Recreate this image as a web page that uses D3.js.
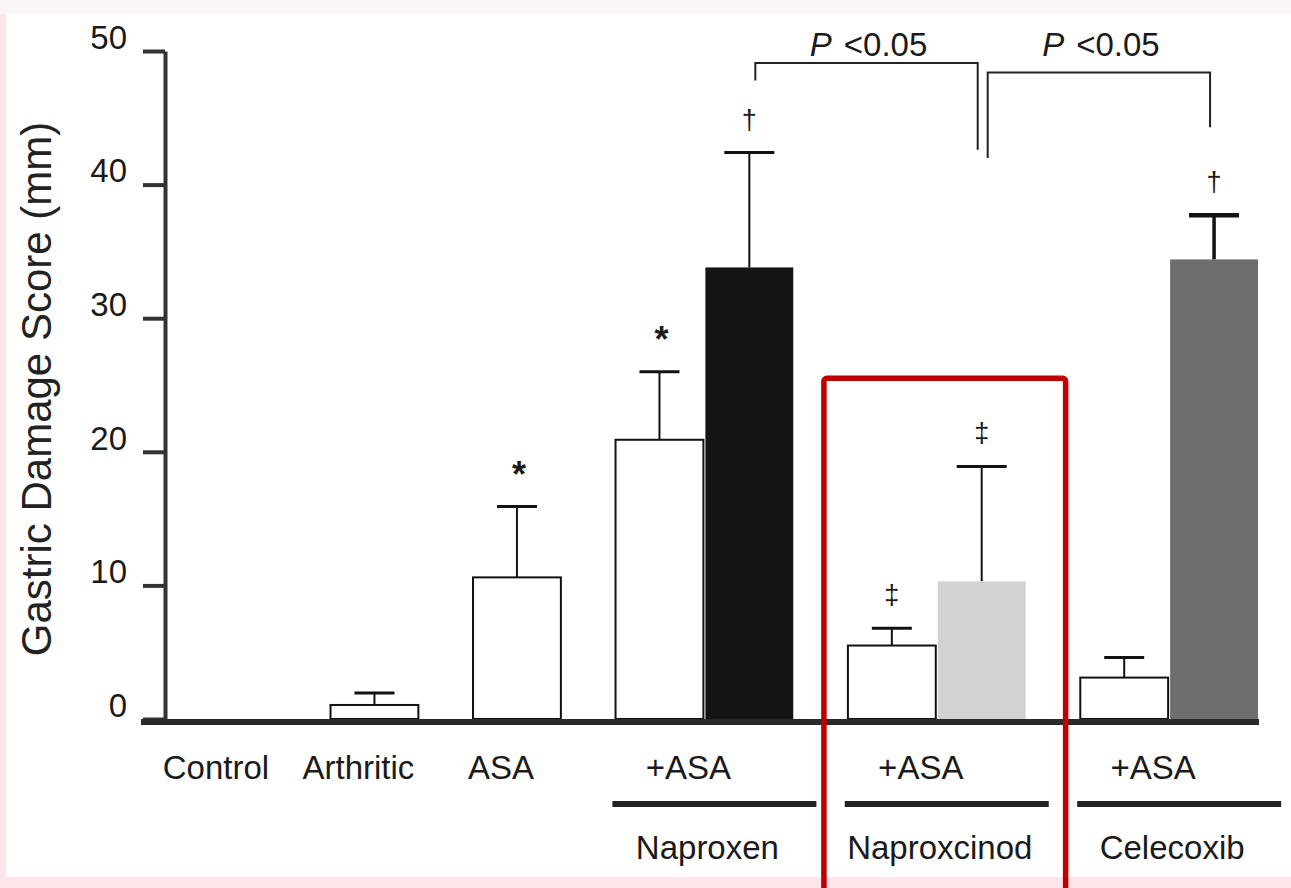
<!DOCTYPE html>
<html>
<head>
<meta charset="utf-8">
<script src="https://cdn.jsdelivr.net/npm/d3@7"></script>
<style>
  html, body { margin: 0; padding: 0; background: #fde5e9; }
  svg { display: block; font-family: "Liberation Sans", Arial, sans-serif; }
</style>
</head>
<body>
<svg id="chart"></svg>
<script>
// values
const groups = ["Control", "Arthritic", "ASA", "Naproxen", "Naproxcinod", "Celecoxib"];
const groupLabels = ["Control", "Arthritic", "ASA", "+ASA", "+ASA", "+ASA"];
const drugLabels = ["", "", "", "Naproxen", "Naproxcinod", "Celecoxib"];
const barGroup = ["Control", "Arthritic", "ASA", "Naproxen", "Naproxen", "Naproxcinod", "Naproxcinod", "Celecoxib", "Celecoxib"];
const barKind = ["plain", "plain", "plain", "plain", "naproxen", "plain", "naproxcinod", "plain", "celecoxib"];
const means = [0, 1.05, 10.6, 20.9, 33.8, 5.5, 10.3, 3.1, 34.4];
const sems = [0, 0.9, 5.3, 5.1, 8.6, 1.3, 8.6, 1.5, 3.3];
const marks = ["", "", "*", "*", "†", "‡", "‡", "", "†"];
const yTicks = [0, 10, 20, 30, 40, 50];
// brackets: bar index from/to, y of top line, y where each leg stops
const brFrom = [4, 6];
const brTo = [6, 8];
const brTop = [49.1, 48.4];
const brFromEnd = [47.8, 42.0];
const brToEnd = [42.6, 44.3];
const brLabel = ["<0.05", "<0.05"];

const W = 1291, H = 888;
const svg = d3.select("#chart").attr("width", W).attr("height", H);

// paper background
svg.append("rect").attr("x", 0).attr("y", 0).attr("width", W).attr("height", 14).attr("fill", "#fbf5f6");
svg.append("rect").attr("x", 6).attr("y", 14).attr("width", W - 6).attr("height", 863).attr("fill", "#ffffff");

const y = d3.scaleLinear().domain([0, 50]).range([719, 51]);

// horizontal layout in "bar units": bar = 1, gap inside a pair, gap between groups
const innerGap = 2 / 88, groupGap = 0.622;
const barStart = [];
const groupSpan = {};
let u = 0;
groups.forEach((g, gi) => {
  if (gi > 0) u += groupGap;
  const idx = barGroup.map((b, i) => b === g ? i : -1).filter(i => i >= 0);
  const s = u;
  idx.forEach((i, k) => {
    if (k > 0) u += innerGap;
    barStart[i] = u;
    u += 1;
  });
  groupSpan[g] = [s, u];
});
const x = d3.scaleLinear().domain([0, u]).range([188, 1258]);
const bw = x(1) - x(0);

const fills = { plain: "#ffffff", naproxen: "#141414", naproxcinod: "#d2d2d2", celecoxib: "#6e6e6e" };
const errWidth = { plain: 2, naproxen: 2, naproxcinod: 2, celecoxib: 3.5 };

// error bars (drawn first so the bar covers the stem)
const eb = svg.append("g");
means.forEach((m, i) => {
  if (m === 0) return;
  const cx = x(barStart[i]) + bw / 2;
  const k = barKind[i];
  const capW = k === "plain" ? 40 : 50;
  eb.append("line").attr("x1", cx).attr("x2", cx)
    .attr("y1", y(m)).attr("y2", y(m + sems[i]))
    .attr("stroke", "#111").attr("stroke-width", errWidth[k]);
  eb.append("line").attr("x1", cx - capW / 2).attr("x2", cx + capW / 2)
    .attr("y1", y(m + sems[i])).attr("y2", y(m + sems[i]))
    .attr("stroke", "#111").attr("stroke-width", errWidth[k] + 1);
});

// bars
const barIdx = d3.range(means.length).filter(i => means[i] > 0);
svg.append("g").selectAll("rect").data(barIdx).join("rect")
  .attr("x", i => x(barStart[i]))
  .attr("y", i => y(means[i]))
  .attr("width", bw)
  .attr("height", i => y(0) - y(means[i]))
  .attr("fill", i => fills[barKind[i]])
  .attr("stroke", i => barKind[i] === "plain" ? "#111" : "none")
  .attr("stroke-width", 2);

// significance marks
means.forEach((m, i) => {
  if (!marks[i]) return;
  const cx = x(barStart[i]) + bw / 2;
  const star = marks[i] === "*";
  svg.append("text")
    .attr("x", cx + (star ? 2 : 0))
    .attr("y", y(m + sems[i]) - (star ? 20 : 24))
    .attr("text-anchor", "middle")
    .attr("font-size", star ? 36 : 27)
    .attr("font-weight", star ? "bold" : "normal")
    .attr("fill", "#1a1a1a")
    .text(marks[i]);
});

// y axis
const yAxis = svg.append("g")
  .attr("transform", "translate(165,0)")
  .call(d3.axisLeft(y).tickValues(yTicks).tickSize(22).tickSizeOuter(0).tickPadding(16));
yAxis.select(".domain").attr("stroke", "#333").attr("stroke-width", 4);
yAxis.selectAll(".tick line").attr("stroke", "#333").attr("stroke-width", 4);
yAxis.selectAll(".tick text")
  .attr("font-size", 33).attr("fill", "#1a1a1a").attr("dy", "-0.08em")
  .attr("font-family", "Liberation Sans, Arial, sans-serif");

// baseline
svg.append("line").attr("x1", 141).attr("x2", 1259)
  .attr("y1", y(0) + 3).attr("y2", y(0) + 3)
  .attr("stroke", "#2a2a2a").attr("stroke-width", 6);

// y title
svg.append("text")
  .attr("transform", `translate(51,${(y(0) + y(50)) / 2 + 4}) rotate(-90)`)
  .attr("text-anchor", "middle")
  .attr("font-size", 42)
  .attr("fill", "#222")
  .text("Gastric Damage Score (mm)");

// category labels, underlines and drug names
groups.forEach((g, gi) => {
  const [s, e] = groupSpan[g];
  const cx = (x(s) + x(e)) / 2;
  svg.append("text").attr("x", cx - 16).attr("y", 779)
    .attr("text-anchor", "middle").attr("font-size", 33).attr("fill", "#1a1a1a")
    .text(groupLabels[gi]);
  if (drugLabels[gi]) {
    const lc = cx + 10;
    svg.append("line").attr("x1", lc - 102).attr("x2", lc + 102)
      .attr("y1", 804).attr("y2", 804)
      .attr("stroke", "#222").attr("stroke-width", 6);
    svg.append("text").attr("x", lc - 7).attr("y", 859)
      .attr("text-anchor", "middle").attr("font-size", 33).attr("fill", "#1a1a1a")
      .text(drugLabels[gi]);
  }
});

// P < 0.05 brackets
brFrom.forEach((f, j) => {
  const x1 = x(barStart[f]) + bw / 2 + 6;
  const x2 = x(barStart[brTo[j]]) + bw / 2 - 4;
  svg.append("path")
    .attr("d", `M${x1},${y(brFromEnd[j])}V${y(brTop[j])}H${x2}V${y(brToEnd[j])}`)
    .attr("fill", "none").attr("stroke", "#222").attr("stroke-width", 2);
  const t = svg.append("text").attr("x", (x1 + x2) / 2 + 2).attr("y", 56)
    .attr("text-anchor", "middle").attr("font-size", 33).attr("fill", "#1a1a1a");
  t.append("tspan").attr("font-style", "italic").text("P");
  t.append("tspan").attr("dx", 12).text(brLabel[j]);
});

// red highlight box around the Naproxcinod group
const hs = groupSpan["Naproxcinod"];
svg.append("rect")
  .attr("x", x(hs[0]) - 24).attr("y", y(25.5))
  .attr("width", x(hs[1]) - x(hs[0]) + 64)
  .attr("height", 600)
  .attr("rx", 3)
  .attr("fill", "none").attr("stroke", "#c00000").attr("stroke-width", 5.5);
</script>
</body>
</html>
